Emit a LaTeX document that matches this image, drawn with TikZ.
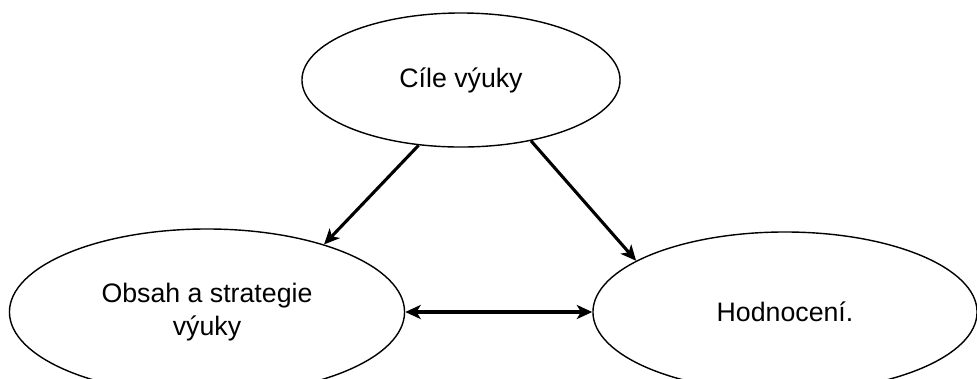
\documentclass[tikz,border=0pt]{standalone}
\usepackage{fontspec}
\setmainfont{Liberation Sans}
\usetikzlibrary{positioning}
\usetikzlibrary{arrows.meta, shapes}

\begin{document}
\begin{tikzpicture}[x=0.025cm, y=-0.025cm]

\tikzset{goal ellipse/.style={
		ellipse,
		draw,
		line width=1pt,
		inner sep=0pt,
		align=center,
		font=\fontsize{19}{23}\selectfont
	},
	link arrow/.style={
		line width=2.2pt,
		-{Stealth[length=11pt,width=10pt,inset=3pt]}
	}
}
\useasboundingbox (0,0) rectangle (977,378);

\node[goal ellipse, minimum width=7.95cm, minimum height=3.35cm] (cile) at (461,80) {C\'ile v\'yuky};
\node[goal ellipse, minimum width=9.875cm, minimum height=4.15cm] (obsah) at (207,312) {Obsah a strategie\\v\'yuky};
\node[goal ellipse, minimum width=9.6cm, minimum height=4cm] (hodnoceni) at (785,312) {Hodnocen\'i.};

%|arrows|
\draw[link arrow] (cile.237) -- (obsah.30);
\draw[link arrow] (cile.319) -- (hodnoceni.161);
\draw[link arrow, {Stealth[length=11pt,width=10pt,inset=3pt]}-{Stealth[length=11pt,width=10pt,inset=3pt]}] (obsah.east) -- (hodnoceni.west);
\end{tikzpicture}
\end{document}
